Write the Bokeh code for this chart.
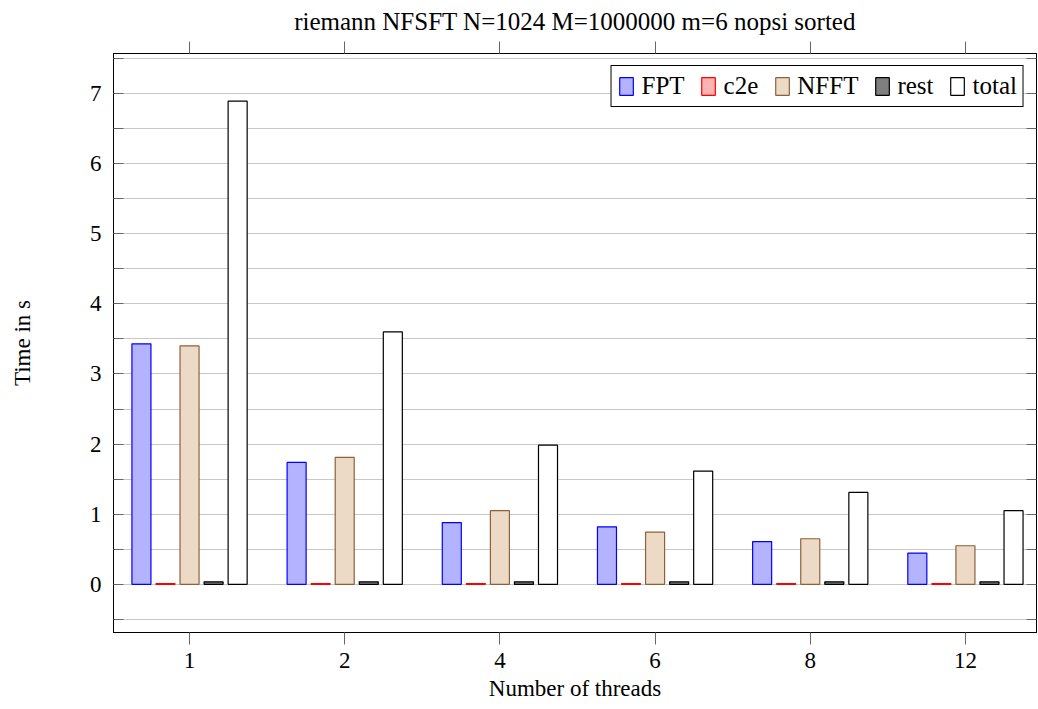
from bokeh.plotting import figure
from bokeh.models import (ColumnDataSource, Range1d, FixedTicker, LinearAxis, Legend, LegendItem)
from bokeh.embed import file_html
from bokeh.resources import INLINE

threads = ["1", "2", "4", "6", "8", "12"]
fpt = [3.43, 1.74, 0.88, 0.82, 0.61, 0.445]
c2e = [0.01, 0.01, 0.01, 0.01, 0.01, 0.01]
nfft = [3.40, 1.81, 1.05, 0.745, 0.65, 0.55]
rest = [0.035, 0.035, 0.035, 0.035, 0.035, 0.035]
total = [6.89, 3.60, 1.985, 1.615, 1.31, 1.05]

series_names = ["FPT", "c2e", "NFFT", "rest", "total"]
series_vals = [fpt, c2e, nfft, rest, total]
fills = ["#b3b3ff", "#ffb3b3", "#ecd9c6", "#7f7f7f", "#ffffff"]
lines = ["#0000ff", "#ff0000", "#8c6239", "#000000", "#000000"]
offsets = [-0.31, -0.155, 0.0, 0.155, 0.31]

FONT = "Liberation Serif"
FS = "23px"

p = figure(width=1037, height=703, output_backend="svg", toolbar_location=None,
           x_range=Range1d(-0.49, 5.458), y_range=Range1d(-0.687, 7.57),
           title="riemann NFSFT N=1024 M=1000000 m=6 nopsi sorted",
           min_border_left=113, min_border_right=1, min_border_top=53, min_border_bottom=10)

p.title.align = "center"
p.title.vertical_align = "top"
p.title.text_font = FONT
p.title.text_font_size = "25px"
p.title.text_font_style = "normal"
p.title.text_color = "#000000"
p.title.offset = 0
p.title.standoff = 10

p.outline_line_color = "#000000"
p.outline_line_alpha = 1.0
p.background_fill_color = "white"
p.border_fill_color = "white"

idx = list(range(len(threads)))

items = []
for name, vals, fc, lc, off in zip(series_names, series_vals, fills, lines, offsets):
    src = ColumnDataSource(dict(x=[i + off for i in idx], top=vals))
    r = p.vbar(x="x", top="top", bottom=0, width=0.1226, source=src,
               fill_color=fc, line_color=lc, line_width=1.2)
    items.append(LegendItem(label=name, renderers=[r]))

# x axis (bottom)
xa = p.xaxis[0]
xa.ticker = FixedTicker(ticks=idx)
xa.major_label_overrides = {i: t for i, t in enumerate(threads)}
xa.major_tick_in = 0
xa.major_tick_out = 12
xa.minor_tick_out = 0
xa.minor_tick_in = 0
xa.axis_label = "Number of threads"
xa.axis_label_text_font = FONT
xa.axis_label_text_font_size = FS
xa.axis_label_text_font_style = "normal"
xa.axis_label_text_color = "#000000"
xa.axis_label_standoff = 5
xa.major_label_text_font = FONT
xa.major_label_text_font_size = FS
xa.major_label_text_color = "#000000"
xa.major_label_standoff = 8
xa.axis_line_color = "#000000"
xa.major_tick_line_color = "#666666"

yticks = [0, 1, 2, 3, 4, 5, 6, 7]
yminor = [-0.5, 0.5, 1.5, 2.5, 3.5, 4.5, 5.5, 6.5, 7.5]

# top axis (ticks only, empty labels)
ta = LinearAxis(ticker=FixedTicker(ticks=idx), major_label_text_font_size="1px",
                major_label_overrides={i: "" for i in idx},
                major_label_standoff=0, axis_label_standoff=0,
                major_tick_in=0, major_tick_out=12, minor_tick_in=0, minor_tick_out=0,
                axis_line_color="#000000", major_tick_line_color="#666666")
p.add_layout(ta, "above")

# y axis (left)
ya = p.yaxis[0]
ya.ticker = FixedTicker(ticks=yticks, minor_ticks=yminor)
ya.major_tick_in = 10
ya.major_tick_out = 0
ya.minor_tick_in = 10
ya.minor_tick_out = 0
ya.major_tick_line_color = "#666666"
ya.minor_tick_line_color = "#666666"
ya.axis_line_color = "#000000"
ya.major_label_text_font = FONT
ya.major_label_text_font_size = FS
ya.major_label_text_color = "#000000"
ya.major_label_standoff = 12
ya.axis_label = "Time in s"
ya.axis_label_text_font = FONT
ya.axis_label_text_font_size = FS
ya.axis_label_text_font_style = "normal"
ya.axis_label_text_color = "#000000"
ya.axis_label_standoff = 52

# right axis (ticks only, empty labels)
ra = LinearAxis(ticker=FixedTicker(ticks=yticks, minor_ticks=yminor),
                major_label_text_font_size="1px",
                major_label_overrides={t: "" for t in yticks},
                major_label_standoff=0,
                major_tick_in=10, major_tick_out=0, minor_tick_in=10, minor_tick_out=0,
                axis_line_color="#000000", major_tick_line_color="#666666",
                minor_tick_line_color="#666666")
p.add_layout(ra, "right")

p.xgrid.grid_line_color = None
p.ygrid.grid_line_color = "#c8c8c8"
p.ygrid.grid_line_width = 1.2
p.ygrid.minor_grid_line_color = "#c8c8c8"
p.ygrid.minor_grid_line_width = 1.2

legend = Legend(items=items, orientation="horizontal", location="top_right",
                label_text_font=FONT, label_text_font_size="25px", label_text_color="#000000",
                glyph_width=17, glyph_height=22, label_standoff=7, spacing=15,
                padding=6, margin=12, border_line_color="#000000", border_line_width=1,
                border_line_alpha=1.0, background_fill_alpha=1.0)
p.add_layout(legend, "center")

open("out.html", "w").write(file_html(p, INLINE))
